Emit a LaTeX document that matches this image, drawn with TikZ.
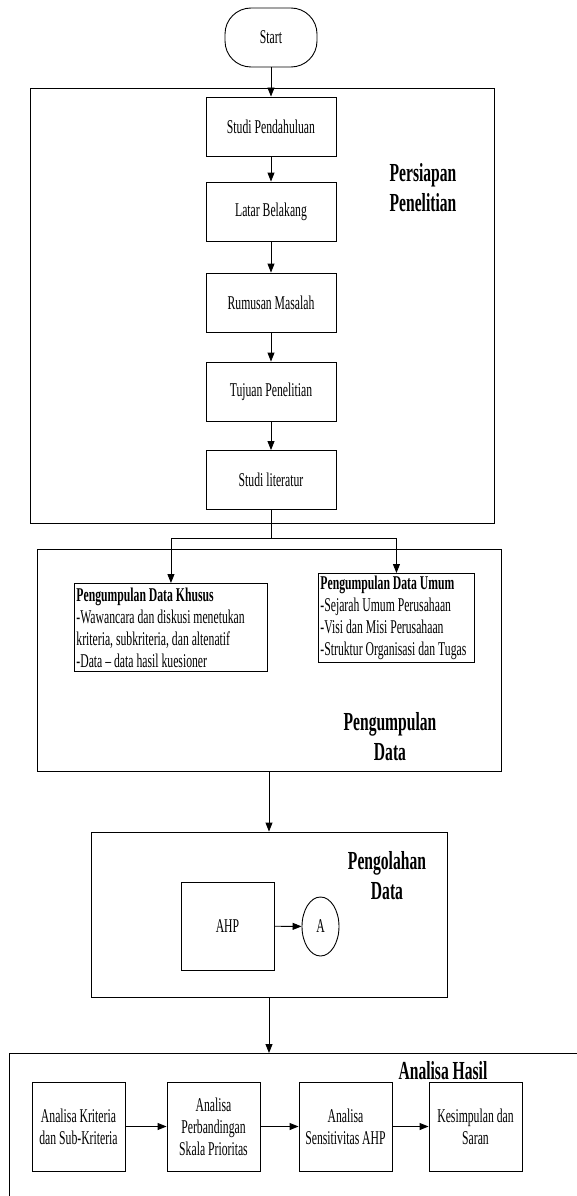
\documentclass[tikz,border=0pt]{standalone}
\usepackage{fontspec}
\setmainfont{Liberation Serif}[FakeStretch=0.6]
\usetikzlibrary{arrows.meta,shapes.geometric}

\begin{document}
\begin{tikzpicture}[x=1pt,y=-1pt,line width=0.9pt,
  txt/.style={font=\fontsize{19.5}{22}\selectfont},
  stepbox/.style={draw,txt,align=center,inner sep=2pt,minimum width=130pt,minimum height=59pt},
  smallbox/.style={draw,txt,align=center,inner sep=2pt,minimum width=93pt,minimum height=89pt},
  listbox/.style={draw,txt,inner sep=2pt,anchor=north west},
  grp/.style={draw,inner sep=0pt},
  lbl/.style={font=\fontsize{26}{30}\selectfont\bfseries,align=center},
  arr/.style={-{Triangle[length=9pt,width=7pt]}}]
\useasboundingbox (0,0) rectangle (576,1196);

% group frames
\node[grp,minimum width=464pt,minimum height=435pt] (g1) at (262,305.5) {};
\node[grp,minimum width=464pt,minimum height=222pt] (g2) at (269,660) {};
\node[grp,minimum width=356pt,minimum height=165pt] (g3) at (269,914.5) {};
\draw (600,1053) -- (9,1053) -- (9,1220);
\coordinate (g4top) at (269,1053);

% start
\node[draw,txt,rounded corners=26pt,minimum width=92pt,minimum height=59pt] (start) at (271,37.5) {Start};

% preparation steps
\node[stepbox] (s1) at (271,126.5) {Studi Pendahuluan};
\node[stepbox] (s2) at (271,211.5) {Latar Belakang};
\node[stepbox] (s3) at (271,302.5) {Rumusan Masalah};
\node[stepbox] (s4) at (271,391.5) {Tujuan Penelitian};
\node[stepbox] (s5) at (271,480) {Studi literatur};
\node[lbl] (l1) at (423,188) {Persiapan\\Penelitian};

% data collection
\node[listbox,minimum width=193pt,minimum height=88pt] (khusus) at (74,583) {\parbox{189pt}{\raggedright\textbf{Pengumpulan Data Khusus}\\-Wawancara dan diskusi menetukan\\kriteria, subkriteria, dan altenatif\\-Data – data hasil kuesioner}};
\node[listbox,minimum width=156pt,minimum height=89pt] (umum) at (318,573) {\parbox{152pt}{\raggedright\textbf{Pengumpulan Data Umum}\\-Sejarah Umum Perusahaan\\-Visi dan Misi Perusahaan\\-Struktur Organisasi dan Tugas}};
\node[lbl] (l2) at (390,737) {Pengumpulan\\Data};

% processing
\node[draw,txt,minimum width=93pt,minimum height=88pt] (ahp) at (227.5,926) {AHP};
\node[draw,txt,ellipse,inner sep=0pt,minimum width=37pt,minimum height=59pt] (a) at (320.5,926.5) {A};
\node[lbl] (l3) at (387,876) {Pengolahan\\Data};

% analysis
\node[lbl] (l4) at (443,1071) {Analisa Hasil};
\node[smallbox] (b1) at (78.5,1126.5) {Analisa Kriteria\\dan Sub-Kriteria};
\node[smallbox] (b2) at (213.5,1126.5) {Analisa\\Perbandingan\\Skala Prioritas};
\node[smallbox] (b3) at (345.5,1126.5) {Analisa\\Sensitivitas AHP};
\node[smallbox] (b4) at (475.5,1126.5) {Kesimpulan dan\\Saran};

% connectors
\draw[arr] (start) -- (s1);
\draw[arr] (s1) -- (s2);
\draw[arr] (s2) -- (s3);
\draw[arr] (s3) -- (s4);
\draw[arr] (s4) -- (s5);
\coordinate (br) at (271,538);
\draw (s5) -- (br);
\draw[arr] (br) -| (khusus.north);
\draw[arr] (br) -| (umum.north);
\draw[arr] (g2) -- (g3);
\draw[arr] (ahp) -- (a);
\draw[arr] (g3.south) -- (g4top);
\draw[arr] (b1) -- (b2);
\draw[arr] (b2) -- (b3);
\draw[arr] (b3) -- (b4);
\end{tikzpicture}
\end{document}
